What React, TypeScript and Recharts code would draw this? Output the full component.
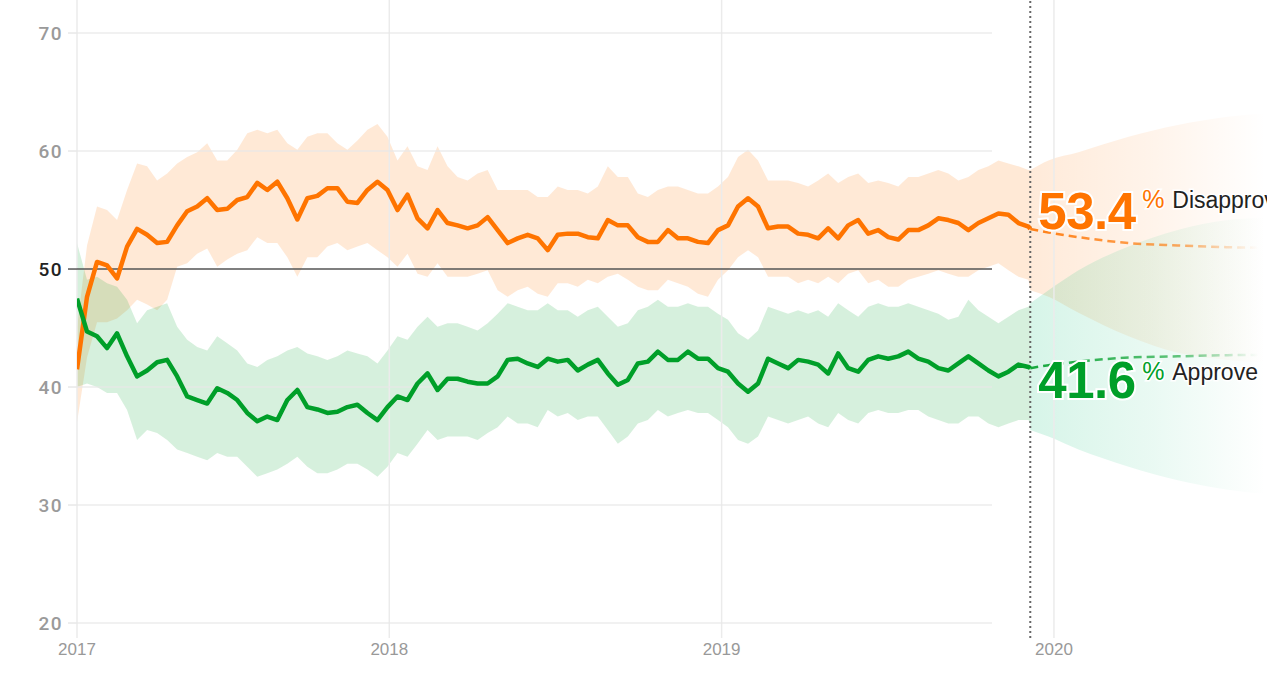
import React from 'react';
import { ComposedChart, Line, Area, XAxis, YAxis, ReferenceLine, ReferenceDot } from 'recharts';

// x values: days since 2017-01-01
const sampleDays = [
  22, 33, 44, 55, 66, 77, 88, 99, 110, 121, 132, 143, 154, 165, 176, 187, 198, 209, 220, 231, 242, 253, 264, 275, 286,
  297, 308, 319, 330, 341, 352, 363, 374, 385, 396, 407, 418, 429, 440, 451, 462, 473, 484, 495, 506, 517, 528, 539,
  550, 561, 572, 583, 594, 605, 616, 627, 638, 649, 660, 671, 682, 693, 704, 715, 726, 737, 748, 759, 770, 781, 792,
  803, 814, 825, 836, 847, 858, 869, 880, 891, 902, 913, 924, 935, 946, 957, 968, 979, 990, 1001, 1012, 1023, 1034,
  1045, 1056, 1067, 1069,
];

const approve = [
  47.5, 44.7, 44.3, 43.3, 44.55, 42.6, 40.9, 41.4, 42.1, 42.3, 40.9, 39.2, 38.9, 38.6, 39.9, 39.5, 38.9, 37.8, 37.1, 37.5, 37.2, 38.9, 39.75, 38.3, 38.1,
  37.8, 37.9, 38.3, 38.5, 37.8, 37.2, 38.3, 39.2, 38.9, 40.3, 41.15, 39.75, 40.7, 40.7, 40.45, 40.3, 40.3, 40.9, 42.3, 42.4, 42.0, 41.7, 42.4, 42.15,
  42.3, 41.4, 41.9, 42.3, 41.15, 40.2, 40.6, 42.0, 42.15, 43.0, 42.3, 42.3, 43.0, 42.4, 42.4, 41.6, 41.3, 40.3, 39.6, 40.3, 42.4, 42.0, 41.6, 42.3,
  42.15, 41.9, 41.15, 42.85, 41.6, 41.3, 42.3, 42.6, 42.4, 42.6, 43.0, 42.4, 42.15, 41.6, 41.4, 42.0, 42.6, 42.0, 41.4, 40.9, 41.3, 41.9, 41.7, 41.6,
];

const disapprove = [
  41.5, 47.65, 50.6, 50.3, 49.2, 51.9, 53.4, 52.9, 52.2, 52.3, 53.7, 54.9, 55.3, 56.0, 55.0, 55.1, 55.85, 56.1, 57.3, 56.7, 57.4, 56.0, 54.2, 56.0, 56.2,
  56.85, 56.85, 55.7, 55.6, 56.7, 57.4, 56.7, 55.0, 56.3, 54.3, 53.45, 55.0, 53.9, 53.7, 53.45, 53.7, 54.4, 53.3, 52.2, 52.6, 52.9, 52.6, 51.6, 52.9,
  53.0, 53.0, 52.7, 52.6, 54.15, 53.7, 53.7, 52.7, 52.3, 52.3, 53.3, 52.6, 52.6, 52.3, 52.2, 53.3, 53.7, 55.3, 56.0, 55.3, 53.45, 53.6, 53.6, 53.0,
  52.9, 52.6, 53.45, 52.6, 53.7, 54.15, 53.0, 53.3, 52.7, 52.5, 53.3, 53.3, 53.7, 54.3, 54.15, 53.9, 53.3, 53.9, 54.3, 54.7, 54.6, 53.9, 53.6, 53.4,
];

const disapproveHi = [
  45.0, 52.0, 55.3, 55.0, 54.15, 56.7, 58.95, 58.7, 57.5, 58.1, 58.95, 59.5, 59.9, 60.65, 59.2, 59.2, 60.1, 61.5, 61.8, 61.5, 61.8, 60.65, 60.1, 61.2, 61.5,
  61.5, 60.65, 60.1, 60.9, 61.8, 62.3, 61.2, 59.2, 60.4, 58.7, 58.4, 60.4, 58.7, 57.8, 57.5, 58.1, 58.4, 56.7, 56.7, 56.7, 56.7, 56.1, 56.1, 57.0,
  56.7, 56.7, 56.4, 57.0, 58.7, 57.8, 57.8, 56.4, 56.1, 56.7, 57.0, 57.0, 56.7, 56.4, 56.4, 57.0, 57.8, 59.5, 60.1, 59.2, 57.5, 57.5, 57.5, 57.3,
  57.0, 57.5, 58.1, 57.3, 57.8, 58.1, 57.3, 57.5, 57.3, 57.0, 57.8, 57.8, 58.1, 58.4, 58.1, 57.5, 57.8, 58.4, 58.7, 59.2, 58.95, 58.7, 58.4, 58.4,
];

const disapproveLo = [
  37.0, 42.5, 45.5, 45.5, 45.8, 46.5, 47.4, 47.0, 46.5, 47.4, 50.2, 50.5, 51.3, 51.75, 50.2, 50.8, 51.3, 51.6, 52.7, 52.2, 52.2, 51.0, 49.35, 51.0, 51.0,
  51.9, 52.2, 51.6, 51.9, 52.2, 51.6, 51.0, 50.2, 51.3, 49.6, 49.35, 50.5, 49.35, 49.35, 49.35, 49.6, 49.9, 48.2, 47.65, 48.2, 48.5, 47.9, 47.65, 48.8,
  48.8, 48.5, 49.1, 48.8, 49.35, 49.6, 49.1, 48.5, 48.2, 48.2, 49.1, 48.8, 48.5, 47.9, 47.65, 49.1, 49.9, 51.0, 51.6, 51.0, 49.35, 49.35, 49.35, 48.8,
  49.1, 48.8, 49.35, 48.8, 49.6, 49.9, 48.8, 49.1, 48.5, 48.5, 49.1, 49.35, 49.6, 49.9, 49.6, 49.35, 49.35, 49.9, 50.2, 50.5, 49.9, 49.35, 49.1, 48.2,
];

const approveHi = [
  52.2, 49.1, 49.35, 48.8, 48.5, 47.4, 45.4, 46.5, 46.8, 47.1, 45.1, 44.0, 43.4, 43.1, 44.3, 43.7, 43.1, 42.0, 41.7, 42.3, 42.6, 43.1, 43.4, 42.85, 42.6,
  42.3, 42.6, 43.1, 42.85, 42.6, 42.0, 43.1, 44.3, 44.0, 45.1, 45.95, 45.1, 45.4, 45.4, 45.1, 44.8, 45.4, 46.2, 47.1, 46.8, 46.5, 46.5, 47.1, 46.5,
  46.5, 45.95, 46.5, 46.8, 45.95, 45.1, 45.4, 46.5, 46.8, 47.4, 46.8, 46.8, 47.1, 46.8, 46.8, 46.2, 45.7, 44.55, 44.0, 44.8, 46.8, 46.5, 46.2, 46.5,
  46.2, 46.5, 45.95, 47.1, 46.5, 45.95, 46.8, 47.1, 46.8, 46.8, 47.1, 46.8, 46.5, 46.2, 45.7, 45.95, 47.4, 46.5, 45.95, 45.4, 45.95, 46.5, 46.8, 47.1,
];

const approveLo = [
  40.0, 40.3, 40.0, 39.5, 39.5, 38.05, 35.5, 36.35, 36.1, 35.5, 34.7, 34.4, 34.1, 33.8, 34.4, 34.1, 34.1, 33.25, 32.4, 32.7, 33.0, 33.5, 34.1, 33.25, 32.7,
  32.7, 33.0, 33.5, 33.5, 33.0, 32.4, 33.25, 34.4, 34.1, 35.2, 36.35, 35.5, 35.8, 35.8, 35.8, 35.5, 36.1, 36.6, 37.5, 36.9, 36.9, 36.6, 38.05, 37.5,
  37.8, 37.2, 37.5, 37.5, 36.35, 35.2, 35.8, 36.9, 37.2, 38.05, 37.5, 37.8, 38.05, 37.8, 37.8, 37.2, 36.6, 35.5, 35.2, 35.8, 37.5, 37.2, 36.9, 37.2,
  37.5, 36.9, 36.6, 37.8, 37.2, 36.9, 37.8, 38.05, 37.8, 37.8, 38.05, 38.05, 37.5, 37.2, 36.9, 36.9, 37.5, 37.5, 36.9, 36.6, 36.9, 37.2, 37.2, 36.9,
];

// forecast
const forecastDays = [1069, 1089, 1122, 1177, 1231, 1286, 1341];
const approveForecast = [41.6, 41.85, 42.15, 42.5, 42.6, 42.7, 42.72];
const disapproveForecast = [53.4, 53.1, 52.7, 52.2, 52.0, 51.85, 51.8];
const approveConeLo = [36.35, 35.8, 34.7, 33.25, 32.1, 31.3, 30.85];
const approveConeHi = [47.1, 48.2, 49.9, 51.9, 53.3, 54.15, 54.4];
const disapproveConeLo = [48.2, 47.65, 46.3, 44.3, 42.9, 42.3, 42.0];
const disapproveConeHi = [58.4, 59.2, 59.9, 61.2, 62.2, 62.9, 63.3];

const yTicks = [20, 30, 40, 50, 60, 70];
const xTicks = [22, 365, 730, 1095];
const xTickLabels = ['2017', '2018', '2019', '2020'];
const gridEndDay = 1027;
const todayDay = 1069;

const ORANGE = '#ff7400';
const GREEN = '#009f29';
const FONT = "'Liberation Sans', Arial, Helvetica, sans-serif";

const history = sampleDays.map((day, i) => ({
  day,
  approve: approve[i],
  disapprove: disapprove[i],
  approveBand: [approveLo[i], approveHi[i]],
  disapproveBand: [disapproveLo[i], disapproveHi[i]],
}));

const forecast = forecastDays.map((day, i) => ({
  day,
  approveF: approveForecast[i],
  disapproveF: disapproveForecast[i],
  approveCone: [approveConeLo[i], approveConeHi[i]],
  disapproveCone: [disapproveConeLo[i], disapproveConeHi[i]],
}));

const lastApprove = approve[approve.length - 1];
const lastDisapprove = disapprove[disapprove.length - 1];

const YTick = (props: any) => {
  const { x, y, payload } = props;
  const dark = payload.value === 50;
  return (
    <g>
      <line x1={x - 9} x2={x} y1={y} y2={y} stroke={dark ? '#555' : '#e8e8e8'} strokeWidth={1.5} />
      <text
        x={x - 14}
        y={y}
        dy={7}
        textAnchor="end"
        fontSize={19}
        fontWeight={500}
        letterSpacing={1.5}
        fontFamily="Roboto, 'DejaVu Sans', sans-serif"
        fill={dark ? '#222' : '#9a9a9a'}
      >
        {payload.value}
      </text>
    </g>
  );
};

const XTick = (props: any) => {
  const { x, y, payload } = props;
  const idx = xTicks.indexOf(payload.value);
  return (
    <text x={x} y={y + 17} textAnchor="middle" fontSize={17} fontFamily={FONT} fill="#999">
      {xTickLabels[idx]}
    </text>
  );
};

const makeLabel = (value: number, color: string, name: string, bigDy: number, smallDy: number) => (props: any) => {
  const { cx, cy } = props;
  return (
    <g>
      <text
        x={cx + 8}
        y={cy + bigDy}
        fontSize={51}
        fontWeight={700}
        letterSpacing={-0.5}
        fontFamily={FONT}
        fill={color}
        stroke="#fff"
        strokeWidth={4}
        paintOrder="stroke"
      >
        {value.toFixed(1)}
      </text>
      <text x={cx + 112} y={cy + smallDy} fontSize={25} fontFamily={FONT} fill={color} stroke="#fff" strokeWidth={3} paintOrder="stroke">
        %
      </text>
      <text x={cx + 142} y={cy + smallDy} fontSize={23} fontFamily={FONT} fill="#222" stroke="#fff" strokeWidth={3} paintOrder="stroke">
        {name}
      </text>
    </g>
  );
};

export default function App() {
  return (
    <div style={{ position: 'absolute', left: 0, top: 0, width: 1288, height: 700, background: '#fff' }}>
      <ComposedChart width={1267} height={700} margin={{ top: 0, right: 0, bottom: 0, left: 0 }}>
        <defs>
          <linearGradient id="coneOrange" x1="0" y1="0" x2="1" y2="0">
            <stop offset="0" stopColor={ORANGE} stopOpacity={0.15} />
            <stop offset="0.5" stopColor={ORANGE} stopOpacity={0.08} />
            <stop offset="0.95" stopColor={ORANGE} stopOpacity={0} />
          </linearGradient>
          <linearGradient id="coneGreen" x1="0" y1="0" x2="1" y2="0">
            <stop offset="0" stopColor="#12c27a" stopOpacity={0.17} />
            <stop offset="0.5" stopColor="#12c27a" stopOpacity={0.09} />
            <stop offset="0.95" stopColor="#12c27a" stopOpacity={0} />
          </linearGradient>
          <linearGradient id="lineOrange" x1="0" y1="0" x2="1" y2="0">
            <stop offset="0" stopColor={ORANGE} stopOpacity={0.9} />
            <stop offset="0.6" stopColor={ORANGE} stopOpacity={0.6} />
            <stop offset="0.92" stopColor={ORANGE} stopOpacity={0} />
          </linearGradient>
          <linearGradient id="lineGreen" x1="0" y1="0" x2="1" y2="0">
            <stop offset="0" stopColor={GREEN} stopOpacity={0.9} />
            <stop offset="0.6" stopColor={GREEN} stopOpacity={0.6} />
            <stop offset="0.92" stopColor={GREEN} stopOpacity={0} />
          </linearGradient>
        </defs>
        <XAxis
          dataKey="day"
          type="number"
          domain={[22, 1329]}
          ticks={xTicks}
          allowDataOverflow
          axisLine={false}
          tickLine={false}
          tickSize={0}
          tickMargin={0}
          interval={0}
          height={62}
          tick={<XTick />}
        />
        <YAxis
          type="number"
          domain={[18.73, 72.8]}
          ticks={yTicks}
          allowDataOverflow
          axisLine={false}
          tickLine={false}
          tickSize={0}
          tickMargin={0}
          interval={0}
          width={77}
          tick={<YTick />}
        />
        {xTicks.map((d) => (
          <ReferenceLine key={'v' + d} x={d} stroke="#ebebeb" strokeWidth={1.5} ifOverflow="visible" />
        ))}
        <Area data={history} dataKey="disapproveBand" type="linear" stroke="none" fill={ORANGE} fillOpacity={0.16} isAnimationActive={false} activeDot={false} />
        <Area data={history} dataKey="approveBand" type="linear" stroke="none" fill={GREEN} fillOpacity={0.16} isAnimationActive={false} activeDot={false} />
        <Area data={forecast} dataKey="disapproveCone" type="monotone" stroke="none" fill="url(#coneOrange)" fillOpacity={1} isAnimationActive={false} activeDot={false} />
        <Area data={forecast} dataKey="approveCone" type="monotone" stroke="none" fill="url(#coneGreen)" fillOpacity={1} isAnimationActive={false} activeDot={false} />
        {yTicks.map((v) => (
          <ReferenceLine
            key={'h' + v}
            segment={[{ x: 22, y: v }, { x: gridEndDay, y: v }]}
            stroke={v === 50 ? '#555' : '#e8e8e8'}
            strokeOpacity={v === 50 ? 1 : 0.8}
            strokeWidth={1.5}
          />
        ))}
        <ReferenceLine x={todayDay} stroke="#666" strokeWidth={2} strokeDasharray="2 3" />
        <Line data={history} dataKey="disapprove" type="linear" stroke={ORANGE} strokeWidth={4.5} strokeLinejoin="round" dot={false} activeDot={false} isAnimationActive={false} />
        <Line data={history} dataKey="approve" type="linear" stroke={GREEN} strokeWidth={4.5} strokeLinejoin="round" dot={false} activeDot={false} isAnimationActive={false} />
        <Line data={forecast} dataKey="disapproveF" type="monotone" stroke="url(#lineOrange)" strokeWidth={2.5} strokeDasharray="8 5" dot={false} activeDot={false} isAnimationActive={false} />
        <Line data={forecast} dataKey="approveF" type="monotone" stroke="url(#lineGreen)" strokeWidth={2.5} strokeDasharray="8 5" dot={false} activeDot={false} isAnimationActive={false} />
        <ReferenceDot x={todayDay} y={lastDisapprove} shape={makeLabel(lastDisapprove, ORANGE, 'Disapprove', 0, -21)} />
        <ReferenceDot x={todayDay} y={lastApprove} shape={makeLabel(lastApprove, GREEN, 'Approve', 30, 12)} />
      </ComposedChart>
    </div>
  );
}
